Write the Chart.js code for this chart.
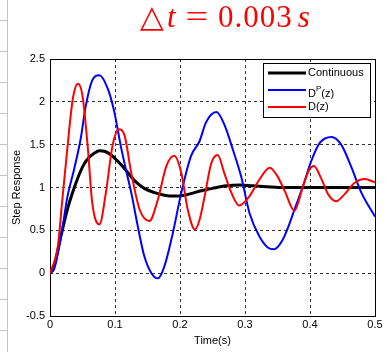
<!DOCTYPE html>
<html>
<head>
<meta charset="utf-8">
<script src="https://cdn.jsdelivr.net/npm/chart.js@4.4.0/dist/chart.umd.min.js"></script>
<style>
  html, body { margin: 0; padding: 0; background: #fff; }
  #wrap { position: relative; width: 387px; height: 352px; overflow: hidden; }
  #edge {
    position: absolute; left: 0; top: 0; width: 7px; height: 352px;
    border-right: 1px solid #c4c4c4;
    background-image: linear-gradient(to bottom, #c4c4c4 0, #c4c4c4 1px, transparent 1px);
    background-size: 7px 31px; background-position: 0 20px; background-repeat: repeat-y;
  }
  #title {
    position: absolute; left: 140px; top: 2px; white-space: nowrap;
    color: #ff0000; font-family: 'Liberation Serif', 'DejaVu Serif', serif;
    font-size: 31px; line-height: 30px;
  }
  #title .tri { display: inline-block; width: 27px; }
  #title .eq { display: inline-block; margin: 0 13px 0 12px; transform: scaleX(1.3); }
  #title .num { letter-spacing: 1px; }
  #title .s { margin-left: 5px; }
  #chart { position: absolute; left: 0; top: 0; }
</style>
</head>
<body>
<div id="wrap">
  <div id="edge"></div>
  <canvas id="chart" width="387" height="352"></canvas>
  <div id="title"><span class="tri">△</span><i>t</i><span class="eq">=</span><span class="num">0.003</span><i class="s">s</i></div>
</div>
<script>
// values
var xTicks = [0, 0.1, 0.2, 0.3, 0.4, 0.5];
var xTickLabels = ['0', '0.1', '0.2', '0.3', '0.4', '0.5'];
var yTicks = [-0.5, 0, 0.5, 1, 1.5, 2, 2.5];
var yTickLabels = ['-0.5', '0', '0.5', '1', '1.5', '2', '2.5'];

var seriesNames = ['Continuous', 'D^P(z)', 'D(z)'];

var tCont = [0, 0.006, 0.017, 0.027, 0.037, 0.047, 0.053, 0.06, 0.068, 0.076, 0.085, 0.094, 0.109, 0.118, 0.13, 0.145, 0.161, 0.176, 0.192, 0.207, 0.222, 0.238, 0.25, 0.271, 0.292, 0.312, 0.333, 0.36, 0.4, 0.45, 0.5];
var yCont = [0, 0.08, 0.44, 0.75, 0.99, 1.19, 1.28, 1.35, 1.4, 1.43, 1.42, 1.38, 1.27, 1.19, 1.08, 0.99, 0.94, 0.91, 0.9, 0.91, 0.94, 0.97, 0.99, 1.02, 1.03, 1.02, 1.01, 1.0, 1.0, 1.0, 1.0];

var tDp = [0, 0.006, 0.017, 0.027, 0.037, 0.047, 0.055, 0.065, 0.076, 0.089, 0.099, 0.109, 0.118, 0.125, 0.135, 0.145, 0.156, 0.166, 0.176, 0.189, 0.202, 0.217, 0.23, 0.24, 0.256, 0.269, 0.281, 0.294, 0.307, 0.322, 0.335, 0.345, 0.358, 0.368, 0.376, 0.389, 0.402, 0.415, 0.433, 0.448, 0.463, 0.479, 0.5];
var yDp = [0, 0.04, 0.43, 0.9, 1.21, 1.56, 1.95, 2.25, 2.31, 2.15, 1.88, 1.48, 1.17, 0.94, 0.55, 0.2, 0.0, -0.06, 0.08, 0.47, 0.94, 1.37, 1.54, 1.76, 1.88, 1.72, 1.45, 1.13, 0.7, 0.43, 0.3, 0.28, 0.39, 0.57, 0.74, 1.01, 1.31, 1.52, 1.59, 1.5, 1.25, 0.94, 0.66];

var tD = [0, 0.012, 0.019, 0.027, 0.035, 0.043, 0.05, 0.058, 0.065, 0.076, 0.086, 0.096, 0.106, 0.115, 0.125, 0.138, 0.153, 0.166, 0.179, 0.191, 0.202, 0.212, 0.223, 0.23, 0.238, 0.248, 0.258, 0.268, 0.279, 0.291, 0.307, 0.322, 0.338, 0.35, 0.361, 0.376, 0.389, 0.399, 0.406, 0.417, 0.428, 0.44, 0.453, 0.468, 0.484, 0.5];
var yD = [0, 0.31, 0.86, 1.48, 2.03, 2.21, 2.07, 1.48, 0.82, 0.57, 0.94, 1.48, 1.68, 1.6, 1.17, 0.74, 0.61, 0.86, 1.25, 1.37, 1.17, 0.74, 0.51, 0.62, 0.9, 1.28, 1.38, 1.17, 0.94, 0.79, 0.9, 1.09, 1.23, 1.13, 0.96, 0.73, 1.01, 1.21, 1.25, 1.11, 0.92, 0.84, 0.92, 1.05, 1.1, 1.06];

function pairs(ts, vs) {
  var out = [];
  for (var i = 0; i < ts.length; i++) out.push({x: ts[i], y: vs[i]});
  return out;
}

var FONT = 'Liberation Sans, Arial, sans-serif';

// axes box drawn under the curves, like matlab
var boxPlugin = {
  id: 'boxPlugin',
  beforeDatasetsDraw: function(chart) {
    var a = chart.chartArea, ctx = chart.ctx;
    ctx.save();
    ctx.strokeStyle = '#000';
    ctx.lineWidth = 1;
    ctx.strokeRect(Math.round(a.left) + 0.5, Math.round(a.top) + 0.5,
      Math.round(a.right) - Math.round(a.left), Math.round(a.bottom) - Math.round(a.top));
    ctx.restore();
  }
};

// legend box in the top right corner, with superscript support for D^P(z)
var legendPlugin = {
  id: 'legendPlugin',
  afterDatasetsDraw: function(chart) {
    var a = chart.chartArea, ctx = chart.ctx;
    var w = 107, h = 54;
    var x0 = Math.round(a.right) - 5 - w, y0 = Math.round(a.top) + 4;
    ctx.save();
    ctx.fillStyle = '#fff';
    ctx.fillRect(x0, y0, w, h);
    ctx.strokeStyle = '#000';
    ctx.lineWidth = 1;
    ctx.strokeRect(x0 + 0.5, y0 + 0.5, w, h);
    chart.data.datasets.forEach(function(ds, i) {
      var y = y0 + 10 + i * 17;
      ctx.strokeStyle = ds.borderColor;
      ctx.lineWidth = ds.borderWidth;
      ctx.beginPath();
      ctx.moveTo(x0 + 5, y);
      ctx.lineTo(x0 + 43, y);
      ctx.stroke();
      ctx.fillStyle = '#000';
      ctx.textBaseline = 'middle';
      ctx.textAlign = 'left';
      var tx = x0 + 45;
      var parts = ds.label.split('^');
      if (parts.length > 1) {
        var base = parts[0], sup = parts[1].charAt(0), rest = parts[1].slice(1);
        ctx.font = '11px ' + FONT;
        ctx.fillText(base, tx, y + 4);
        tx += ctx.measureText(base).width;
        ctx.font = '8px ' + FONT;
        ctx.fillText(sup, tx, y - 1);
        tx += ctx.measureText(sup).width;
        ctx.font = '11px ' + FONT;
        ctx.fillText(rest, tx, y + 4);
      } else {
        ctx.font = '11px ' + FONT;
        ctx.fillText(ds.label, tx, y);
      }
    });
    ctx.restore();
  }
};

var ctx = document.getElementById('chart').getContext('2d');
var chart = new Chart(ctx, {
  type: 'line',
  data: {
    datasets: [
      {
        label: seriesNames[0],
        data: pairs(tCont, yCont),
        borderColor: '#000000',
        borderWidth: 3,
        order: 2
      },
      {
        label: seriesNames[1],
        data: pairs(tDp, yDp),
        borderColor: '#0000ff',
        borderWidth: 2,
        order: 1
      },
      {
        label: seriesNames[2],
        data: pairs(tD, yD),
        borderColor: '#ff0000',
        borderWidth: 2,
        order: 0
      }
    ]
  },
  options: {
    responsive: false,
    animation: false,
    devicePixelRatio: 1,
    parsing: false,
    elements: {
      point: { radius: 0 },
      line: { cubicInterpolationMode: 'monotone', fill: false }
    },
    layout: { padding: { top: 59, right: 12, bottom: 0, left: 0 } },
    plugins: {
      legend: { display: false },
      tooltip: { enabled: false }
    },
    scales: {
      x: {
        type: 'linear',
        min: 0,
        max: 0.5,
        afterBuildTicks: function(s) { s.ticks = xTicks.map(function(v) { return {value: v}; }); },
        afterFit: function(s) { s.height = 36; },
        ticks: {
          color: '#000',
          font: { family: FONT, size: 11 },
          padding: 2,
          maxRotation: 0,
          callback: function(v, i) { return xTickLabels[i]; }
        },
        grid: { color: '#333', lineWidth: 1, drawTicks: false },
        border: { display: false, dash: [3, 3] },
        title: {
          display: true,
          text: 'Time(s)',
          color: '#000',
          font: { family: FONT, size: 11 },
          padding: { top: 0, bottom: 4 }
        }
      },
      y: {
        type: 'linear',
        min: -0.5,
        max: 2.5,
        afterBuildTicks: function(s) { s.ticks = yTicks.map(function(v) { return {value: v}; }); },
        afterFit: function(s) { s.width = 50; },
        ticks: {
          color: '#000',
          font: { family: FONT, size: 11 },
          padding: 5,
          callback: function(v, i) { return yTickLabels[i]; }
        },
        grid: { color: '#333', lineWidth: 1, drawTicks: false },
        border: { display: false, dash: [3, 3] },
        title: {
          display: true,
          text: 'Step Response',
          color: '#000',
          font: { family: FONT, size: 11 },
          padding: { top: 10, bottom: 0 }
        }
      }
    }
  },
  plugins: [boxPlugin, legendPlugin]
});
</script>
</body>
</html>
